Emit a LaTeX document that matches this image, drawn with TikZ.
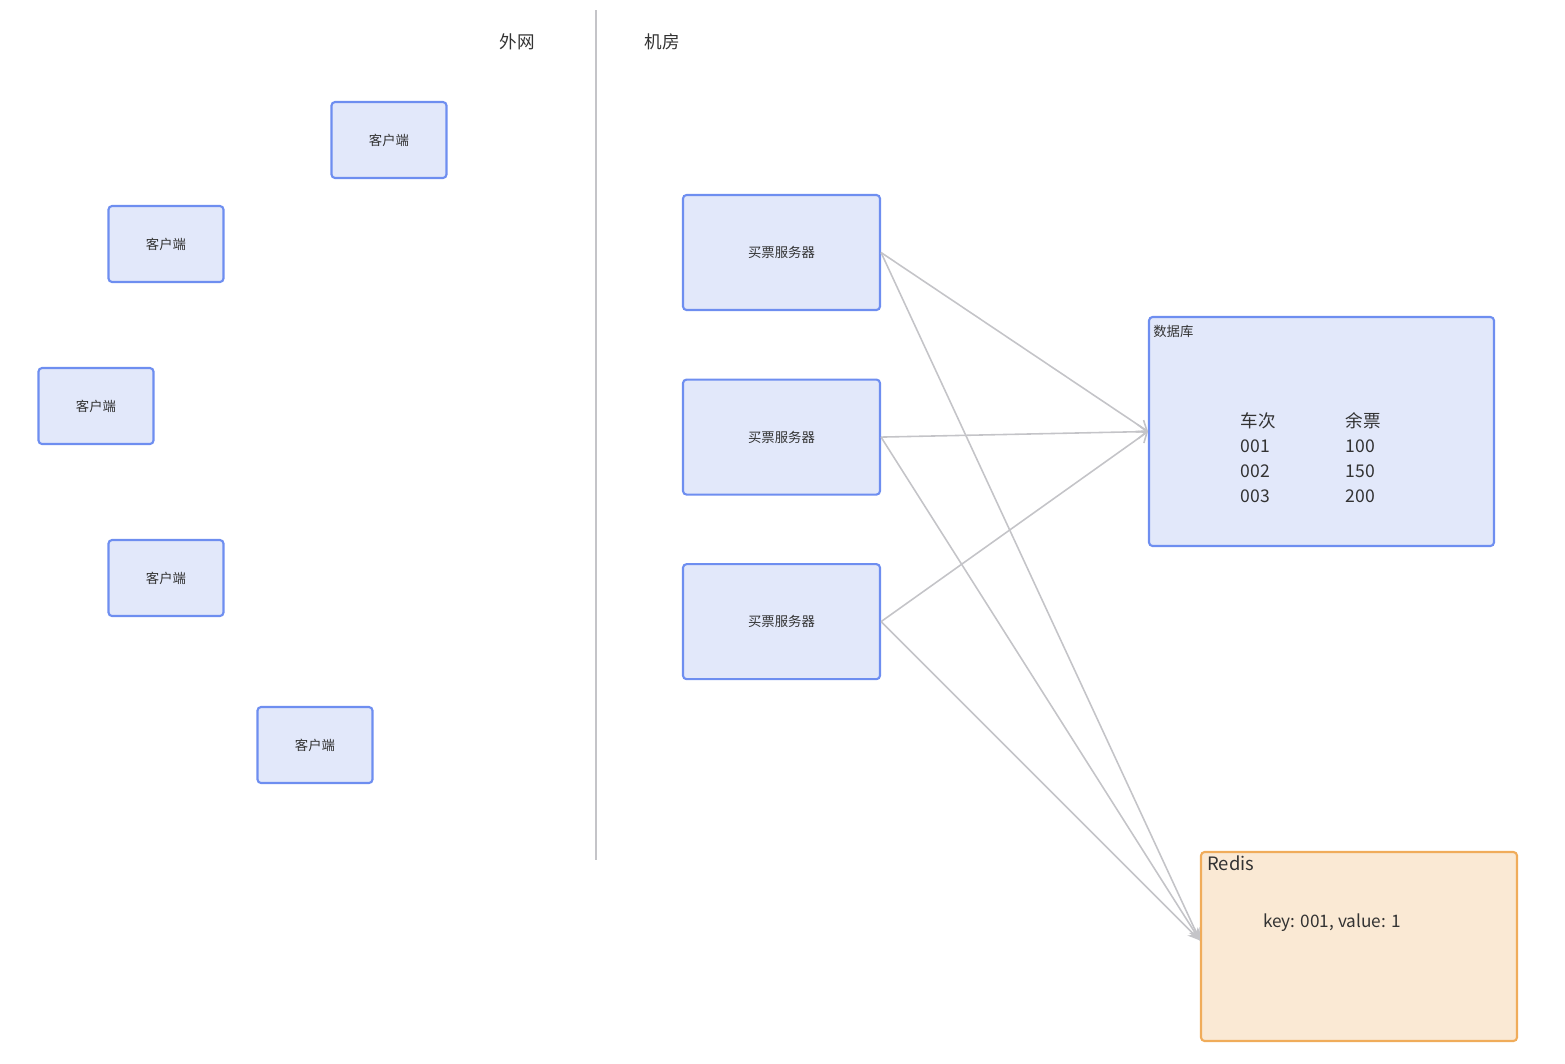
\documentclass[tikz,border=0pt]{standalone}
\usepackage{fontspec}
\setmainfont{Noto Sans CJK SC}
\usetikzlibrary{arrows.meta,positioning}

\definecolor{boxfill}{HTML}{E2E8FA}
\definecolor{boxline}{HTML}{6E8EF0}
\definecolor{redisfill}{HTML}{FAE9D4}
\definecolor{redisline}{HTML}{F0AC5A}
\definecolor{linkgray}{HTML}{C4C4C8}
\definecolor{txt}{HTML}{333333}

\tikzset{
  client/.style={draw=boxline, fill=boxfill, line width=1.2pt, rounded corners=2pt, minimum width=2.3cm, minimum height=1.52cm, text=txt, font=\fontsize{7.6}{9}\selectfont},
  server/.style={client, minimum width=3.94cm, minimum height=2.3cm},
  store/.style={client, minimum width=6.9cm, minimum height=4.58cm},
  cache/.style={draw=redisline, fill=redisfill, line width=1.2pt, rounded corners=2pt, minimum width=6.32cm, minimum height=3.78cm},
  caption/.style={text=txt, inner sep=0pt},
  link/.style={draw=linkgray, line width=0.9pt},
}

\begin{document}
\begin{tikzpicture}[x=0.02cm, y=-0.02cm, node distance=1.35cm]
    \useasboundingbox (0,0) rectangle (1565,1063);

    % Zones
    \coordinate (divtop) at (596,10);
    \coordinate (divbot) at (596,860);
    \draw[draw=linkgray, line width=1pt] (divtop) -- (divbot);
    \node[caption, font=\fontsize{10}{12}\selectfont] (outside) at (517,42) {外网};
    \node[caption, font=\fontsize{10}{12}\selectfont] (room) at (662,42) {机房};

    % Clients
    \node[client] (client1) at (389,140) {客户端};
    \node[client] (client2) at (166,244) {客户端};
    \node[client] (client3) at (96,406) {客户端};
    \node[client] (client4) at (166,578) {客户端};
    \node[client] (client5) at (315,745) {客户端};

    % Servers
    \node[server] (server1) at (781.5,252.5) {买票服务器};
    \node[server, below=of server1] (server2) {买票服务器};
    \node[server, below=of server2] (server3) {买票服务器};

    % Database
    \node[store] (db) at (1321.5,431.5) {};
    \node[caption, anchor=north west, font=\fontsize{7.6}{9}\selectfont] (dblabel) at ([xshift=0.1cm, yshift=-0.17cm]db.north west) {数据库};
    \node[caption, font=\fontsize{10}{14.2}\selectfont] (table) at (1311,460) {%
      \begin{tabular}{@{}p{2.1cm}@{}l@{}}
        车次 & 余票\\
        001 & 100\\
        002 & 150\\
        003 & 200
      \end{tabular}};

    % Redis
    \node[cache] (redis) at (1359,946.5) {};
    \node[caption, anchor=north west, font=\fontsize{10.5}{12}\selectfont] (redislabel) at ([xshift=0.14cm, yshift=-0.08cm]redis.north west) {Redis};
    \node[caption, font=\fontsize{9.8}{12}\selectfont] (entry) at (1332,923) {key: 001, value: 1};

    % Arrows
    \draw[link, -{Straight Barb[length=5pt, width=8pt]}] (server1.east) -- (db.west);
    \draw[link, -{Straight Barb[length=5pt, width=8pt]}] (server2.east) -- (db.west);
    \draw[link, -{Straight Barb[length=5pt, width=8pt]}] (server3.east) -- (db.west);
    \draw[link, -{Stealth[length=7pt, width=6pt]}] (server1.east) -- ([yshift=0.12cm]redis.west);
    \draw[link, -{Stealth[length=7pt, width=6pt]}] (server2.east) -- ([yshift=0.12cm]redis.west);
    \draw[link, -{Stealth[length=7pt, width=6pt]}] (server3.east) -- ([yshift=0.12cm]redis.west);
\end{tikzpicture}
\end{document}
